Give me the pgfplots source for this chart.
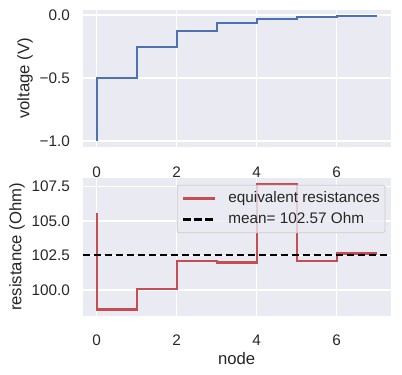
\documentclass[border=0pt]{standalone}
\usepackage{fontspec}
\setmainfont{Liberation Sans}
\usepackage{pgfplots}
\pgfplotsset{compat=1.18}
\definecolor{bgc}{HTML}{EAEAF2}
\definecolor{sbblue}{HTML}{4C72B0}
\definecolor{sbred}{HTML}{C44E52}
\definecolor{labc}{HTML}{262626}
\definecolor{legedge}{HTML}{CCCCCC}
\newcommand\tickfont{\fontsize{15.3bp}{18bp}\selectfont}
\newcommand\labfont{\fontsize{16.7bp}{20bp}\selectfont}
\pgfplotsset{
  sb/.style={
    scale only axis, width=308bp, height=137.5bp,
    anchor=south west,
    axis background/.style={fill=bgc},
    axis line style={draw=none},
    grid=major, grid style={white, line width=1.39bp},
    major tick length=0pt,
    xmin=-0.35, xmax=7.35, xtick={0,2,4,6}, xticklabels={0,2,4,6},
    tick label style={font=\tickfont, text=labc},
    xticklabel style={yshift=-16bp},
    yticklabel style={xshift=-9.3bp},
    label style={font=\labfont, text=labc},
  }
}
\begin{document}
\begin{tikzpicture}
\useasboundingbox (0,0) rectangle (402bp,375bp);
\begin{axis}[sb, at={(82.7bp,227.7bp)},
  ymin=-1.0496, ymax=0.0418, ytick={-1,-0.5,0}, yticklabels={−1.0,−0.5,0.0},
  ylabel={voltage (V)}]
\addplot[sbblue, line width=2.08bp, const plot mark right] coordinates {
(0,-1) (1,-0.5) (2,-0.25) (3,-0.125) (4,-0.0625) (5,-0.03125) (6,-0.015625) (7,-0.0078125)};
\end{axis}
\begin{axis}[sb, at={(82.7bp,59.3bp)},
  ymin=98.15, ymax=108.1, ytick={100,102.5,105,107.5}, yticklabels={100.0,102.5,105.0,107.5},
  ylabel={resistance (Ohm)}, xlabel={node},
  legend cell align=left,
  legend image code/.code={\draw[#1] (0bp,0bp) -- (32bp,0bp);},
  legend style={at={(1,1)}, anchor=north east, xshift=-5.3bp, yshift=-6.7bp,
    font=\tickfont, text=labc, draw=legedge, line width=0.8bp, rounded corners=2.5bp,
    fill=bgc, fill opacity=0.8, text opacity=1, inner xsep=5.2bp, inner ysep=6bp,
    row sep=6.5bp,
    nodes={inner sep=0pt, text height=11bp, text depth=3.5bp},
    /tikz/every odd column/.append style={column sep=12bp}}]
\addplot[sbred, line width=2.08bp, const plot mark right] coordinates {
(0,105.55) (1,98.6) (2,100.05) (3,102.08) (4,102.0) (5,107.65) (6,102.08) (7,102.65)};
\addlegendentry{equivalent resistances}
\addplot[black, line width=2.08bp, dash pattern=on 7.7bp off 3.3bp] coordinates {(-0.35,102.57) (7.35,102.57)};
\addlegendentry{mean= 102.57 Ohm}
\end{axis}
\end{tikzpicture}
\end{document}
